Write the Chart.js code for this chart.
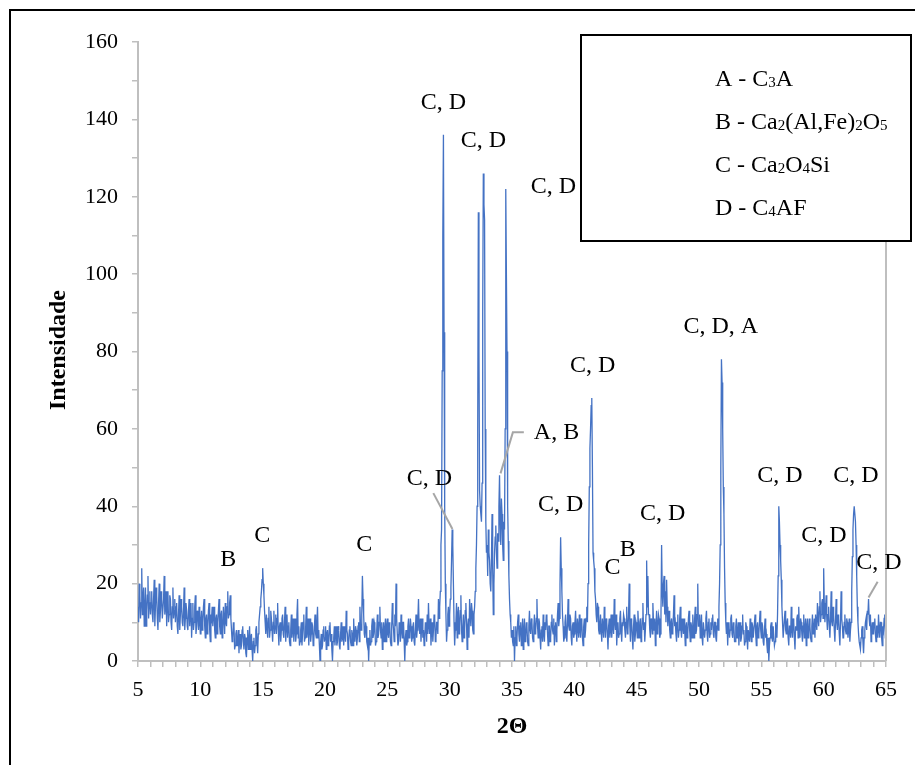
<!DOCTYPE html>
<html>
<head>
<meta charset="utf-8">
<title>DRX - clínquer</title>
<script src="https://cdn.jsdelivr.net/npm/chart.js@4.4.1/dist/chart.umd.min.js"></script>
<style>
    html, body { margin: 0; padding: 0; background: #fff; overflow: hidden; }
    #wrap { position: relative; width: 915px; height: 765px; overflow: hidden; }
    #xrd { position: absolute; left: 0; top: 0; }
    #frame { position: absolute; left: 9px; top: 9px; width: 1000px; height: 1000px;
             border: 2px solid #000; box-sizing: border-box; pointer-events: none; }
</style>
</head>
<body>
<div id="wrap">
    <canvas id="xrd" width="915" height="765"></canvas>
    <div id="frame"></div>
</div>
<script>
// scan starts at 5 degrees, every row is one degree sampled each 0.05
const firstAngle = 5;
const angleStep = 0.05;

// intensity, one row per degree (5, 6, ... 65)
const scanRows = [
    [14,10,20,17,11,15,24,12,16,19,9,13,19,9,13,17,22,11,15,18],        // 5
    [12,15,18,12,10,16,21,9,14,19,17,11,8,15,20,10,13,18,16,11],        // 6
    [11,16,22,12,14,18,9,15,18,10,12,17,16,10,8,14,19,11,13,16],        // 7
    [10,14,15,9,7,12,17,8,12,16,14,10,9,13,19,8,11,15,13,9],            // 8
    [8,13,16,9,12,15,6,11,15,8,10,14,17,7,9,13,12,8,14,10],             // 9
    [7,11,13,8,10,14,16,9,6,11,12,7,9,13,15,8,5,12,11,14],              // 10
    [9,12,14,8,6,11,12,7,10,13,16,9,7,12,13,6,8,14,11,7],               // 11
    [15,10,9,14,18,11,12,15,17,11,8,5,6,10,9,3,4,7,8,4],                // 12
    [5,8,2,6,7,3,4,8,9,5,3,7,6,2,1,6,8,3,5,9],                          // 13
    [3,6,7,3,0,5,6,2,4,8,9,5,2,7,10,12,14,16,18,21],                    // 14
    [24,20,17,13,10,7,12,9,6,11,14,6,8,13,11,8,5,10,13,7],              // 15
    [9,12,7,11,15,8,4,9,10,5,8,11,12,7,6,10,14,5,9,12],                 // 16
    [6,9,10,5,4,8,12,6,8,11,5,9,11,5,7,12,16,6,9,4],                    // 17
    [5,8,10,4,7,10,12,5,6,9,14,6,8,11,4,9,11,5,7,10],                   // 18
    [9,4,5,9,12,7,6,10,14,6,8,4,0,5,7,3,4,8,9,5],                       // 19
    [6,9,3,7,8,4,5,9,10,5,7,3,0,5,6,9,4,7,9,4],                         // 20
    [5,9,8,4,3,7,10,5,6,9,4,7,9,5,13,8,7,3,5,8],                        // 21
    [9,5,4,8,7,4,11,6,5,9,8,4,6,9,10,5,14,9,8,12],                      // 22
    [22,16,12,7,6,10,9,5,4,6,0,5,8,4,5,9,11,6,7,10],                    // 23
    [9,4,5,8,12,6,7,10,14,8,6,10,3,7,10,5,8,11,5,9],                    // 24
    [11,7,6,10,9,5,4,9,15,10,8,5,12,9,20,11,7,4,5,10],                  // 25
    [9,5,12,8,6,10,10,5,0,6,8,4,5,9,11,6,7,11,9,5],                     // 26
    [6,9,10,5,4,8,12,6,8,11,16,9,7,11,5,9,11,6,8,4],                    // 27
    [6,10,9,5,12,7,15,9,7,11,4,8,10,5,8,12,11,5,6,10],                  // 28
    [10,7,16,11,14,18,30,34,75,110,136,85,40,20,12,5,8,12,14,9],        // 29
    [12,16,19,26,34,30,20,10,4,8,10,15,6,12,14,7,9,13,17,8],            // 30
    [5,9,12,6,8,13,15,10,3,9,11,6,16,12,9,15,13,8,7,12],                // 31
    [14,18,24,30,40,60,116,80,44,40,38,36,46,90,126,118,114,60,36,28],  // 32
    [30,22,34,28,26,20,18,26,38,24,12,20,28,32,35,28,24,33,31,40],      // 33
    [48,36,30,42,38,30,26,36,34,60,122,100,80,40,31,22,16,12,10,6],     // 34
    [8,5,4,9,0,6,9,4,6,10,12,7,5,9,10,4,7,11,3,8],                      // 35
    [11,5,6,10,9,5,4,9,13,8,7,11,10,6,5,9,12,7,8,11],                   // 36
    [16,9,6,11,10,6,3,8,9,5,12,7,5,10,8,12,11,7,4,9],                   // 37
    [9,5,6,10,12,8,7,11,4,9,10,5,8,12,15,9,11,20,32,24],                // 38
    [18,12,9,5,6,10,12,7,5,10,16,9,8,12,11,6,4,9,10,6],                 // 39
    [7,10,13,8,5,11,9,6,12,8,6,11,10,6,4,9,11,6,8,11],                  // 40
    [14,10,20,30,45,55,60,66,68,50,28,26,24,18,16,12,10,15,14,8],       // 41
    [7,10,12,8,5,11,9,6,14,9,6,11,10,7,3,9,11,6,8,12],                  // 42
    [6,9,12,7,16,10,8,12,4,8,10,6,7,11,13,8,5,10,9,12],                 // 43
    [11,8,6,10,14,7,8,12,20,9,5,11,10,6,3,9,12,5,7,10],                 // 44
    [9,6,13,9,6,10,11,5,7,11,15,8,10,5,8,12,26,14,22,12],               // 45
    [12,8,6,11,10,7,15,10,8,11,4,9,13,7,9,12,11,6,7,12],                // 46
    [30,18,14,20,22,12,18,10,21,14,9,12,13,8,6,10,11,7,8,12],           // 47
    [17,9,10,7,5,10,12,6,8,11,14,8,6,11,9,7,11,8,4,9],                  // 48
    [10,6,7,11,13,8,5,10,9,6,12,9,6,11,14,7,8,12,20,9],                 // 49
    [9,12,6,9,12,6,4,10,10,6,8,11,13,7,5,10,11,6,7,10],                 // 50
    [8,11,12,7,6,10,10,6,5,9,11,8,14,20,30,50,78,72,60,45],             // 51
    [38,24,15,10,7,10,4,9,10,6,8,11,12,7,6,10,9,5,5,9],                 // 52
    [11,6,7,10,4,8,10,5,6,9,12,7,8,4,5,10,9,6,3,8],                     // 53
    [8,5,11,7,5,10,9,6,6,10,12,7,4,9,10,6,7,10,13,8],                   // 54
    [6,10,9,5,4,8,11,6,7,4,2,6,0,4,6,9,10,6,5,9],                       // 55
    [9,4,5,10,8,6,12,22,40,36,30,26,21,14,10,6,6,11,13,8],              // 56
    [7,10,11,6,4,9,9,6,14,8,6,11,10,6,3,9,8,11,12,6],                   // 57
    [14,9,6,11,10,7,5,9,12,6,8,11,4,9,11,6,7,11,9,6],                   // 58
    [5,9,12,7,8,11,6,12,10,8,15,11,9,14,18,10,12,15,16,11],             // 59
    [24,15,10,13,17,11,8,12,14,9,6,11,18,10,9,14,12,8,5,10],            // 60
    [16,10,8,12,11,7,4,10,18,11,9,6,6,10,12,8,7,11,10,6],               // 61
    [8,11,5,8,10,18,27,34,38,40,40,36,30,22,14,10,7,5,4,3],             // 62
    [6,8,9,5,2,6,8,10,11,8,13,12,16,11,9,12,5,8,10,7],                  // 63
    [7,10,11,7,5,9,9,6,12,8,6,10,10,6,4,9,8,11,12,6],                   // 64
    [6]                                                                 // 65
];

// phase labels over the peaks (text, 2-theta, intensity of label centre)
const peakText = ['B', 'C', 'C', 'C, D', 'C, D', 'C, D', 'C, D', 'A, B', 'C, D', 'C, D',
                  'C', 'B', 'C, D', 'C, D, A', 'C, D', 'C, D', 'C, D', 'C, D'];
const peakAngle = [12.23, 14.96, 23.15, 29.5, 32.71, 38.33, 28.37, 38.57, 38.9, 41.47,
                   43.07, 44.28, 47.09, 51.75, 56.49, 60.02, 62.59, 64.44];
const peakLevel = [26.1, 32.3, 30.0, 144.4, 134.4, 122.5, 47.0, 58.9, 40.3, 76.2,
                   24.0, 28.7, 38.2, 86.3, 47.8, 32.3, 47.8, 25.3];

// leader lines from a few labels to their peak
const leaders = [
    [[28.69, 43.4], [30.22, 34.1]],
    [[35.95, 59.1], [35.07, 59.1], [34.08, 48.5]],
    [[64.33, 20.5], [63.6, 16.4]]
];

// phase key, each line split in normal / subscript runs
const keyLines = [
    [['A - C', 0], ['3', 1], ['A', 0]],
    [['B - Ca', 0], ['2', 1], ['(Al,Fe)', 0], ['2', 1], ['O', 0], ['5', 1]],
    [['C - Ca', 0], ['2', 1], ['O', 0], ['4', 1], ['Si', 0]],
    [['D - C', 0], ['4', 1], ['AF', 0]]
];

const serif = '"Liberation Serif", "Times New Roman", serif';
const axisGray = '#bfbfbf';

let points = [];
scanRows.forEach((row, r) => {
    row.forEach((v, j) => {
        points.push({ x: firstAngle + r + j * angleStep, y: v });
    });
});

const decorations = {
    id: 'decorations',
    afterDraw(chart) {
        const ctx = chart.ctx;
        const xs = chart.scales.x, ys = chart.scales.y;
        const area = chart.chartArea;
        ctx.save();

        // right edge of the plot area
        ctx.strokeStyle = axisGray;
        ctx.lineWidth = 2;
        ctx.beginPath();
        ctx.moveTo(area.right, area.top);
        ctx.lineTo(area.right, area.bottom);
        ctx.stroke();

        // leaders
        ctx.strokeStyle = '#a6a6a6';
        ctx.lineWidth = 2;
        leaders.forEach(line => {
            ctx.beginPath();
            line.forEach((p, i) => {
                let px = xs.getPixelForValue(p[0]), py = ys.getPixelForValue(p[1]);
                if (i == 0) ctx.moveTo(px, py); else ctx.lineTo(px, py);
            });
            ctx.stroke();
        });

        // peak labels
        ctx.fillStyle = '#000';
        ctx.font = '24px ' + serif;
        ctx.textAlign = 'center';
        ctx.textBaseline = 'middle';
        peakText.forEach((t, i) => {
            ctx.fillText(t, xs.getPixelForValue(peakAngle[i]), ys.getPixelForValue(peakLevel[i]));
        });

        // axis titles
        ctx.font = 'bold 23px ' + serif;
        ctx.save();
        ctx.translate(59, 350);
        ctx.rotate(-Math.PI / 2);
        let w = ctx.measureText('Intensidade').width;
        ctx.scale(120 / w, 1);
        ctx.fillText('Intensidade', 0, 0);
        ctx.restore();
        ctx.font = 'bold 24px ' + serif;
        ctx.fillText('2\u0398', 512, 727);

        // phase key
        ctx.fillStyle = '#fff';
        ctx.fillRect(581, 35, 330, 206);
        ctx.strokeStyle = '#000';
        ctx.lineWidth = 2;
        ctx.strokeRect(581, 35, 330, 206);
        ctx.fillStyle = '#000';
        ctx.textAlign = 'left';
        ctx.textBaseline = 'alphabetic';
        keyLines.forEach((runs, row) => {
            let cx = 715;
            let base = 86 + row * 43;
            runs.forEach(r => {
                ctx.font = (r[1] ? '15px ' : '24px ') + serif;
                ctx.fillText(r[0], cx, base + (r[1] ? 1 : 0));
                cx += ctx.measureText(r[0]).width;
            });
        });

        ctx.restore();
    }
};

new Chart(document.getElementById('xrd'), {
    type: 'line',
    data: {
        datasets: [{
            data: points,
            borderColor: '#4472c4',
            borderWidth: 1.3,
            pointRadius: 0,
            tension: 0,
            fill: false
        }]
    },
    options: {
        responsive: false,
        animation: false,
        events: [],
        layout: { padding: { top: 42, right: 29, left: 0, bottom: 0 } },
        plugins: { legend: { display: false }, tooltip: { enabled: false } },
        scales: {
            x: {
                type: 'linear',
                min: 5,
                max: 65,
                afterFit: s => { s.height = 104; },
                border: { color: axisGray, width: 2 },
                grid: { drawOnChartArea: false, drawTicks: true, tickLength: 6, color: axisGray, lineWidth: 1.5 },
                ticks: {
                    stepSize: 1,
                    autoSkip: false,
                    maxRotation: 0,
                    padding: 10,
                    color: '#000',
                    font: { family: serif, size: 22 },
                    callback: v => (v % 5 === 0 ? v : '')
                }
            },
            y: {
                min: 0,
                max: 160,
                afterFit: s => { s.width = 138; },
                border: { color: axisGray, width: 2 },
                grid: { drawOnChartArea: false, drawTicks: true, tickLength: 6, color: axisGray, lineWidth: 1.5 },
                ticks: {
                    stepSize: 10,
                    padding: 14,
                    color: '#000',
                    font: { family: serif, size: 22 },
                    callback: v => (v % 20 === 0 ? v : '')
                }
            }
        }
    },
    plugins: [decorations]
});
</script>
</body>
</html>
